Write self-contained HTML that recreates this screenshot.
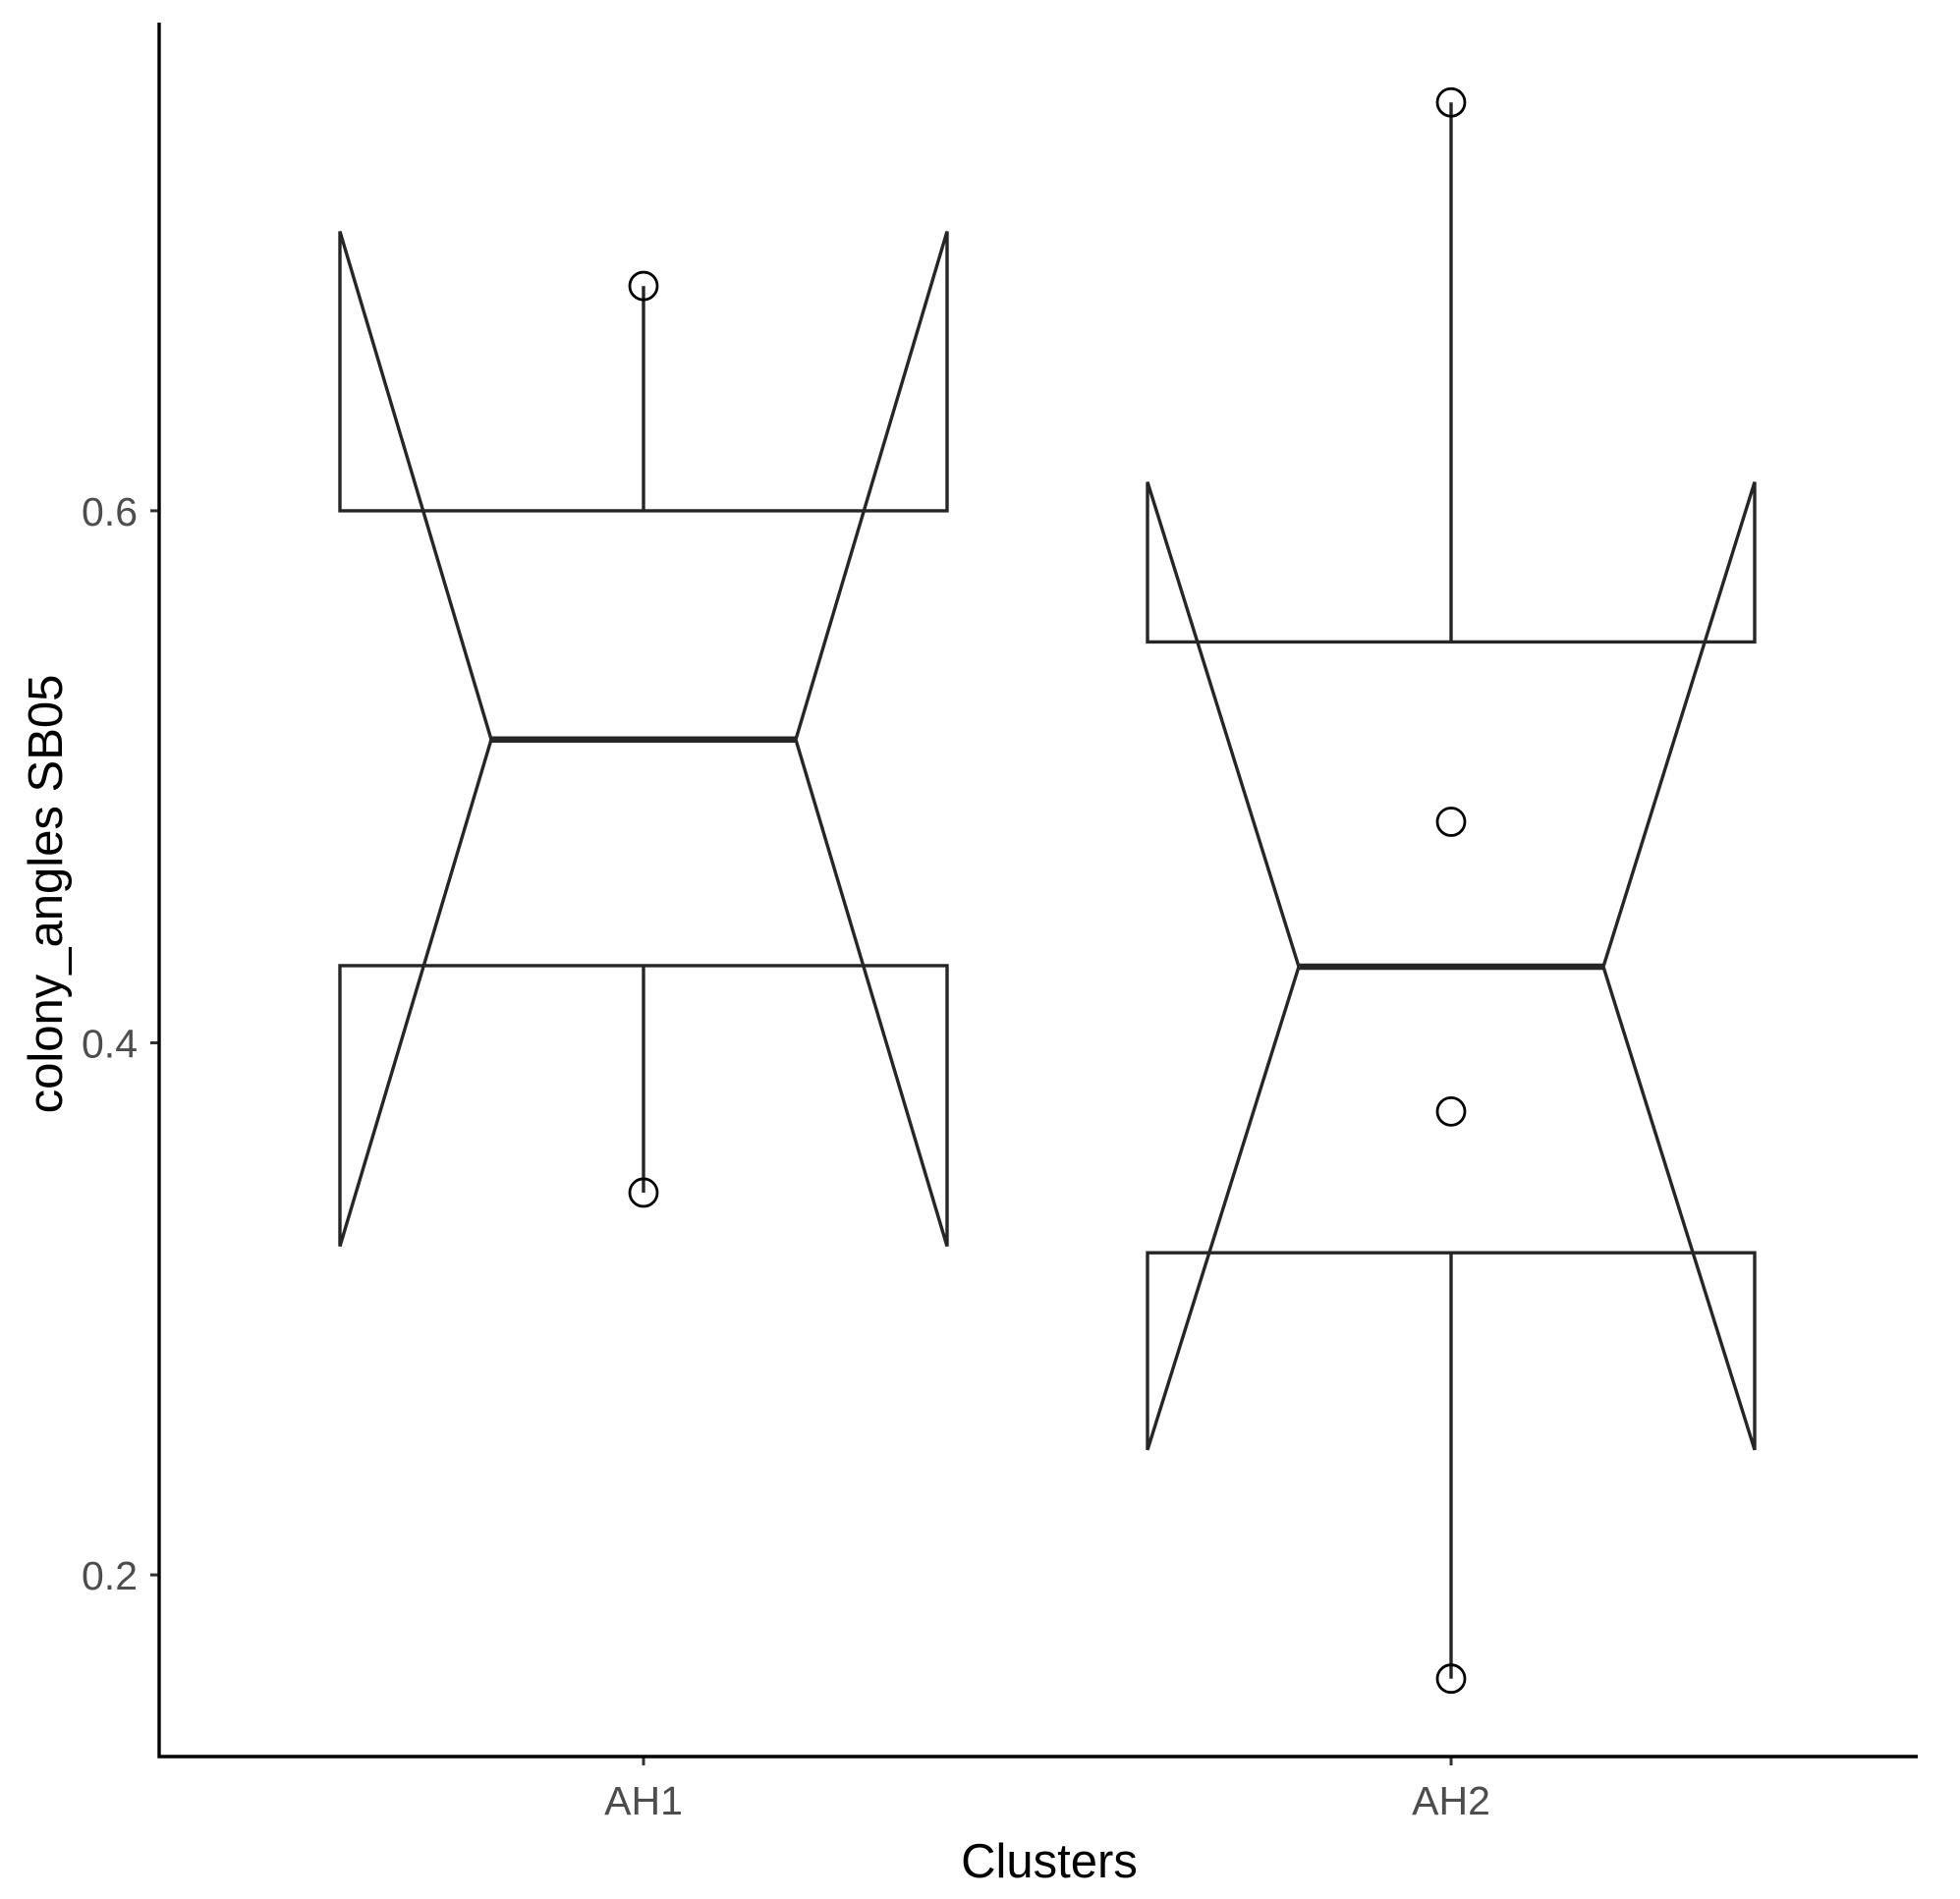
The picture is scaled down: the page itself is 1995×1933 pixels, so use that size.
<!DOCTYPE html>
<html><head><meta charset="utf-8"><style>
body{margin:0;background:#fff}
svg{display:block}
text{font-family:"Liberation Sans",Arial,sans-serif}
</style></head><body>
<svg id="chart" width="1995" height="1933" viewBox="0 0 1995 1933" xmlns="http://www.w3.org/2000/svg">
<g id="plot"></g>
</svg>
<script>
const categories = ["AH1","AH2"];
const lowerWhisker = [0.3437, 0.161];
const lowerHinge = [0.429, 0.3211];
const medians = [0.514, 0.4286];
const upperHinge = [0.6, 0.5507];
const upperWhisker = [0.6845, 0.7535];
const notchLow = [0.3235, 0.247];
const notchHigh = [0.705, 0.6108];
const pointsAH1 = [0.6845, 0.3437];
const pointsAH2 = [0.7535, 0.4831, 0.3742, 0.161];
const yTicks = [0.2, 0.4, 0.6];
const yTickLabels = ["0.2","0.4","0.6"];

const NS = "http://www.w3.org/2000/svg";
const g = document.getElementById("plot");
const xLeft = 162, xRight = 1952, yBottom = 1788, yTop = 23;
function yScale(v){ return 1061.5 - (v - 0.4) * 2708; }
function xScale(i){ return 655 + i * 822; }
const halfW = 309, notchW = 155;
const col = "#262626";
function mk(tag, attrs, parent){
  const e = document.createElementNS(NS, tag);
  for (const k in attrs) e.setAttribute(k, attrs[k]);
  (parent || g).appendChild(e);
  return e;
}
const pointSets = [pointsAH1, pointsAH2];
categories.forEach((c, i) => {
  const cx = xScale(i);
  const grp = mk("g", {});
  
  
  const w1 = mk("line", {x1:cx, x2:cx, y1:yScale(upperHinge[i]), y2:yScale(upperWhisker[i]), stroke:col, "stroke-width":3.4}, grp);
  
  
  const w2 = mk("line", {x1:cx, x2:cx, y1:yScale(lowerHinge[i]), y2:yScale(lowerWhisker[i]), stroke:col, "stroke-width":3.4}, grp);
  
  
  const l = cx - halfW, r = cx + halfW;
  const pts = [
    [l, yScale(upperHinge[i])], [l, yScale(notchHigh[i])], [cx - notchW, yScale(medians[i])],
    [l, yScale(notchLow[i])], [l, yScale(lowerHinge[i])], [r, yScale(lowerHinge[i])],
    [r, yScale(notchLow[i])], [cx + notchW, yScale(medians[i])], [r, yScale(notchHigh[i])],
    [r, yScale(upperHinge[i])]
  ];
  const box = mk("polygon", {points: pts.map(p => p.join(",")).join(" "), fill:"none", stroke:col, "stroke-width":3.4, "stroke-linejoin":"miter"}, grp);
  
  
  const med = mk("line", {x1:cx - notchW, x2:cx + notchW, y1:yScale(medians[i]), y2:yScale(medians[i]), stroke:col, "stroke-width":6.5}, grp);
  
  
  pointSets[i].forEach(v => {
    const p = mk("circle", {cx:cx, cy:yScale(v), r:14, fill:"none", stroke:"#000", "stroke-width":2.8}, grp);
    
    
  });
  const t = mk("line", {x1:cx, x2:cx, y1:yBottom, y2:yBottom + 9, stroke:"#333", "stroke-width":3});
  
  
  const lab = mk("text", {x:cx, y:1847, "text-anchor":"middle", "font-size":41, fill:"#4d4d4d"});
  lab.textContent = c;
  
  
});
yTicks.forEach((v, i) => {
  const y = yScale(v);
  const t = mk("line", {x1:xLeft - 9, x2:xLeft, y1:y, y2:y, stroke:"#333", "stroke-width":3});
  
  
  const lab = mk("text", {x:xLeft - 22, y:y + 15, "text-anchor":"end", "font-size":41, fill:"#4d4d4d"});
  lab.textContent = yTickLabels[i];
  
  
});
const ax = mk("polyline", {points:`${xLeft},${yTop} ${xLeft},${yBottom} ${xRight},${yBottom}`, fill:"none", stroke:"#000", "stroke-width":3.4});


const xt = mk("text", {x:1068, y:1911, "text-anchor":"middle", "font-size":49, fill:"#000"});
xt.textContent = "Clusters";


const yt = mk("text", {x:0, y:0, transform:"translate(63,910) rotate(-90)", "text-anchor":"middle", "font-size":49, fill:"#000"});
yt.textContent = "colony_angles SB05";


</script>
</body></html>
